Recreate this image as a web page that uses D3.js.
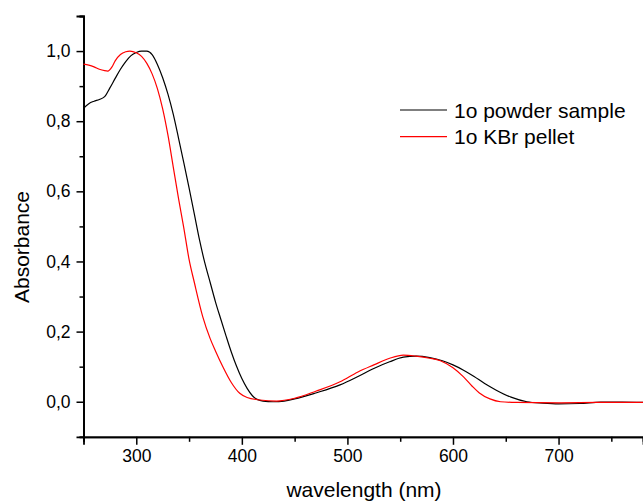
<!DOCTYPE html>
<html>
<head>
<meta charset="utf-8">
<script src="https://cdn.jsdelivr.net/npm/d3@7"></script>
<style>
  body { margin: 0; background: #fff; }
  svg text { font-family: Arial, "Liberation Sans", sans-serif; fill: #000; }
</style>
</head>
<body>
<svg id="chart" width="643" height="504"></svg>
<script>
// wavelength (nm) / absorbance pairs
var powderNm  = [250,255,260,265,270,275,280,285,290,295,300,305,310,315,320,325,330,335,340,345,350,355,360,365,370,375,380,385,390,395,400,405,410,415,420,430,440,450,470,493,510,525,540,553,565,578,590,600,610,620,630,641,655,670,685,700,720,740,760,780];
var powderAbs = [0.837,0.850,0.857,0.862,0.870,0.895,0.922,0.948,0.970,0.987,0.996,1.0,1.0,0.990,0.962,0.924,0.877,0.820,0.752,0.682,0.610,0.535,0.460,0.395,0.340,0.285,0.236,0.188,0.142,0.101,0.066,0.038,0.017,0.006,0.002,0.0,0.002,0.008,0.025,0.048,0.072,0.095,0.114,0.127,0.130,0.126,0.117,0.105,0.090,0.072,0.052,0.033,0.013,0.0,-0.004,-0.006,-0.005,-0.001,-0.001,-0.002];

var pelletNm  = [250,255,260,265,270,273,277,280,285,290,294,300,305,310,315,320,325,330,335,340,345,350,355,363,370,375,382,390,398,405,417,433,450,470,493,510,525,540,553,565,578,588,600,610,618,625,635,645,660,700,740,780];
var pelletAbs = [0.963,0.960,0.955,0.948,0.944,0.943,0.955,0.972,0.990,0.998,1.0,0.995,0.985,0.965,0.935,0.893,0.835,0.760,0.670,0.580,0.496,0.406,0.340,0.242,0.180,0.145,0.100,0.055,0.024,0.012,0.005,0.002,0.010,0.030,0.057,0.085,0.105,0.124,0.133,0.130,0.124,0.117,0.097,0.071,0.045,0.025,0.008,0.0,-0.002,-0.003,-0.002,-0.002];

var seriesNames  = ["1o powder sample", "1o KBr pellet"];
var seriesColors = ["#000000", "#ff0000"];

var xTicks = [300, 400, 500, 600, 700];
var yTicks = [0, 0.2, 0.4, 0.6, 0.8, 1.0];

var svg = d3.select("#chart");

var x = d3.scaleLinear().domain([250, 780]).range([83.5, 643]);
var y = d3.scaleLinear().domain([-0.1, 1.1]).range([436.8, 16]);

// axes
var xAxis = d3.axisBottom(x)
    .tickValues(xTicks)
    .tickSize(8)
    .tickPadding(5)
    .tickFormat(d3.format("d"));

var xMinor = d3.axisBottom(x)
    .tickValues([250, 350, 450, 550, 650, 750])
    .tickSize(5)
    .tickFormat("");

var yAxis = d3.axisLeft(y)
    .tickValues(yTicks)
    .tickSize(7)
    .tickPadding(6)
    .tickFormat(function (d) { return d.toFixed(1).replace(".", ","); });

var yMinor = d3.axisLeft(y)
    .tickValues([-0.1, 0.1, 0.3, 0.5, 0.7, 0.9, 1.1])
    .tickSize(4)
    .tickFormat("");

svg.append("g").attr("transform", "translate(0," + y(-0.1) + ")").call(xAxis);
svg.append("g").attr("transform", "translate(0," + y(-0.1) + ")").call(xMinor);
svg.append("g").attr("transform", "translate(" + x(250) + ",0)").call(yAxis);
svg.append("g").attr("transform", "translate(" + x(250) + ",0)").call(yMinor);

svg.selectAll(".domain").attr("stroke-width", 1.8);
svg.selectAll(".tick line").attr("stroke-width", 1.5);
svg.selectAll(".tick text").style("font-size", "17.5px").attr("fill", "#000");

// curves
var line = d3.line()
    .x(function (d) { return x(d[0]); })
    .y(function (d) { return y(d[1]); })
    .curve(d3.curveMonotoneX);

var powder = d3.zip(powderNm, powderAbs);
var pellet = d3.zip(pelletNm, pelletAbs);

svg.append("path").datum(powder)
    .attr("d", line)
    .attr("fill", "none")
    .attr("stroke", seriesColors[0])
    .attr("stroke-width", 1.2);

svg.append("path").datum(pellet)
    .attr("d", line)
    .attr("fill", "none")
    .attr("stroke", seriesColors[1])
    .attr("stroke-width", 1.2);

// titles
svg.append("text")
    .attr("x", 364)
    .attr("y", 497)
    .attr("text-anchor", "middle")
    .style("font-size", "21px")
    .text("wavelength (nm)");

svg.append("text")
    .attr("transform", "translate(29,247) rotate(-90)")
    .attr("text-anchor", "middle")
    .style("font-size", "21px")
    .text("Absorbance");

// legend
var legend = svg.append("g").selectAll("g")
    .data(seriesNames)
    .enter().append("g")
    .attr("transform", function (d, i) { return "translate(400," + (110 + i * 26.7) + ")"; });

legend.append("line")
    .attr("x1", 0).attr("x2", 47)
    .attr("stroke", function (d, i) { return seriesColors[i]; })
    .attr("stroke-width", 1.2);

legend.append("text")
    .attr("x", 54)
    .attr("dy", "0.36em")
    .style("font-size", "21px")
    .text(function (d) { return d; });
</script>
</body>
</html>
